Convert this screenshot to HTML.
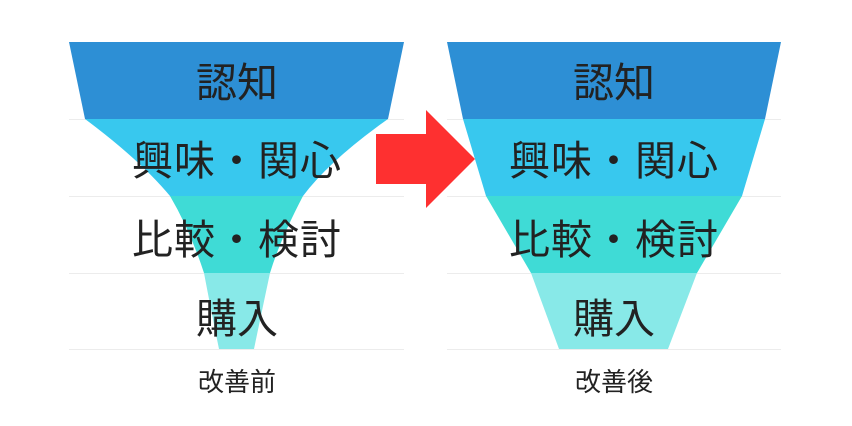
<!DOCTYPE html>
<html><head><meta charset="utf-8"><style>
html,body{margin:0;padding:0;background:#fff;width:852px;height:426px;overflow:hidden}
svg text{font-family:"Liberation Sans","Noto Sans CJK JP",sans-serif;fill:#222;text-anchor:middle}
</style></head><body>
<svg width="852" height="426" viewBox="0 0 852 426" xmlns="http://www.w3.org/2000/svg">
<g stroke="#ececec" stroke-width="1">
<line x1="69" y1="119.5" x2="404" y2="119.5"/><line x1="69" y1="196.5" x2="404" y2="196.5"/><line x1="69" y1="273.5" x2="404" y2="273.5"/><line x1="69" y1="349.5" x2="404" y2="349.5"/>
<line x1="447" y1="119.5" x2="781" y2="119.5"/><line x1="447" y1="196.5" x2="781" y2="196.5"/><line x1="447" y1="273.5" x2="781" y2="273.5"/><line x1="447" y1="349.5" x2="781" y2="349.5"/>
</g>
<polygon points="69,42 404,42 388,119 85,119" fill="#2d8fd5"/>
<path d="M85,119 L388,119 Q330,160 303,196 L170,196 Q140,160 85,119Z" fill="#38c8ee"/>
<path d="M170,196 L303,196 Q280,240 270,273 L204,273 Q190,230 170,196Z" fill="#3fdbd6"/>
<path d="M204,273 L270,273 Q260,320 254,349 L219,349 Q212,315 204,273Z" fill="#88e9e8"/>
<polygon points="447,42 781,42 765,119 463,119" fill="#2d8fd5"/>
<polygon points="463,119 765,119 742,196 486,196" fill="#38c8ee"/>
<polygon points="486,196 742,196 697,273 531,273" fill="#3fdbd6"/>
<polygon points="531,273 697,273 668,349 559,349" fill="#88e9e8"/>
<polygon points="376,134 426,134 426,110 475,159 426,208 426,184 376,184" fill="#fe3030"/>
<g font-size="41">
<text x="237" y="97">認知</text>
<text x="237" y="175" letter-spacing="1">興味・関心</text>
<text x="237" y="254" letter-spacing="1">比較・検討</text>
<text x="237" y="333">購入</text>
<text x="614" y="97">認知</text>
<text x="614" y="175" letter-spacing="1">興味・関心</text>
<text x="614" y="254" letter-spacing="1">比較・検討</text>
<text x="614" y="333">購入</text>
</g>
<g font-size="26">
<text x="237" y="391">改善前</text>
<text x="614" y="391">改善後</text>
</g>
</svg>
</body></html>
